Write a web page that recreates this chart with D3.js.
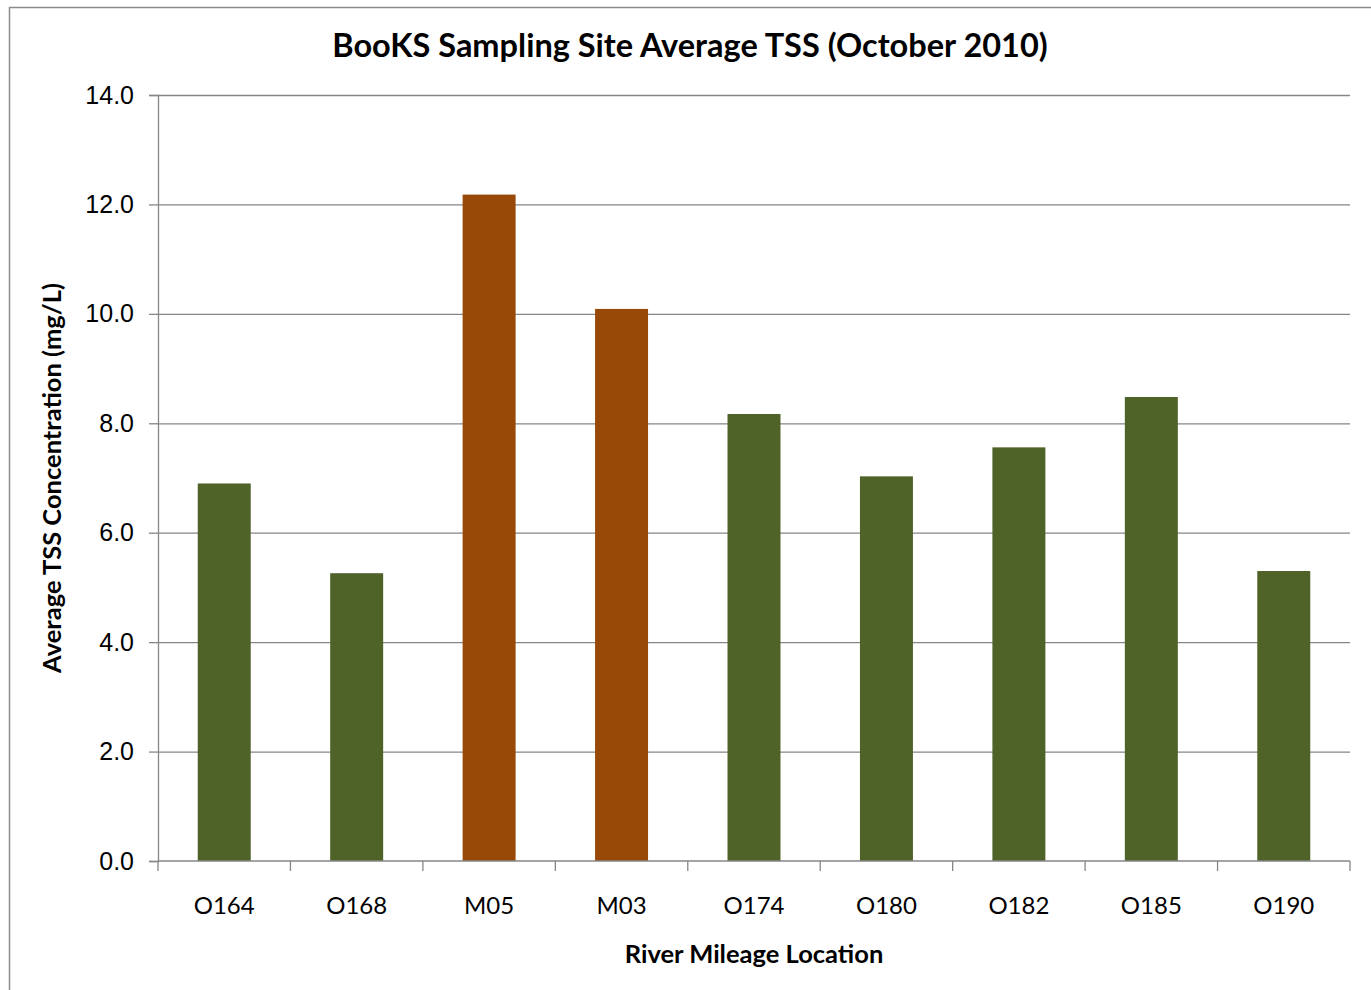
<!DOCTYPE html>
<html>
<head>
<meta charset="utf-8">
<script src="https://cdn.jsdelivr.net/npm/d3@7"></script>
<style>
	body { margin: 0; background: #fff; }
	svg { font-family: Lato, "Open Sans", sans-serif; }
</style>
</head>
<body>
<div id="chart"></div>
<script>
// data
const sites = ["O164", "O168", "M05", "M03", "O174", "O180", "O182", "O185", "O190"];
const tss = [6.9, 5.26, 12.18, 10.09, 8.17, 7.03, 7.56, 8.48, 5.3];
const siteType = ["O", "O", "M", "M", "O", "O", "O", "O", "O"];
const yTicks = [0, 2, 4, 6, 8, 10, 12, 14];

const width = 1371, height = 990;
const margin = {top: 95, right: 21, bottom: 129, left: 158};

const svg = d3.select("#chart").append("svg")
	.attr("width", width)
	.attr("height", height);

// chart frame
svg.append("rect")
	.attr("x", 9.5).attr("y", 7.5)
	.attr("width", 1380).attr("height", 1000)
	.attr("fill", "none")
	.attr("stroke", "#8c8c8c")
	.attr("stroke-width", 1.5);

const x = d3.scaleBand()
	.domain(sites)
	.range([margin.left, width - margin.right])
	.paddingInner(0.6)
	.paddingOuter(0.3);

const y = d3.scaleLinear()
	.domain([0, 14])
	.range([height - margin.bottom, margin.top]);

const color = d3.scaleOrdinal()
	.domain(["O", "M"])
	.range(["#4f6228", "#984807"]);

// gridlines + y axis
const yAxis = g => g
	.attr("transform", `translate(${margin.left},0)`)
	.call(d3.axisLeft(y).tickValues(yTicks).tickFormat(d3.format(".1f")).tickSize(9).tickPadding(15))
	.call(g => g.select(".domain").attr("stroke", "#868686").attr("stroke-width", 1.3))
	.call(g => g.selectAll(".tick line").attr("stroke", "#868686").attr("stroke-width", 1.3))
	.call(g => g.selectAll(".tick line")
		.filter(d => d !== 0)
		.clone()
		.attr("x1", 0)
		.attr("x2", width - margin.right - margin.left))
	.call(g => g.selectAll(".tick text")
		.attr("fill", "#000")
		.attr("font-size", 25));

svg.append("g").call(yAxis);

// bars
svg.append("g")
	.selectAll("rect")
	.data(sites)
	.join("rect")
	.attr("x", d => x(d))
	.attr("y", (d, i) => y(tss[i]))
	.attr("width", x.bandwidth())
	.attr("height", (d, i) => y(0) - y(tss[i]))
	.attr("fill", (d, i) => color(siteType[i]));

// x axis with ticks between categories
const xg = svg.append("g")
	.attr("transform", `translate(0,${y(0)})`);

xg.append("line")
	.attr("x1", margin.left).attr("x2", width - margin.right)
	.attr("stroke", "#868686").attr("stroke-width", 1.3);

const step = x.step();
const bounds = d3.range(sites.length + 1).map(i => margin.left + i * step);
xg.selectAll(".sep")
	.data(bounds)
	.join("line")
	.attr("x1", d => d).attr("x2", d => d)
	.attr("y1", 0).attr("y2", 10)
	.attr("stroke", "#868686").attr("stroke-width", 1.3);

xg.selectAll(".lbl")
	.data(sites)
	.join("text")
	.attr("x", d => x(d) + x.bandwidth() / 2)
	.attr("y", 53)
	.attr("text-anchor", "middle")
	.attr("font-size", 24)
	.text(d => d);

// title
svg.append("text")
	.attr("x", 690)
	.attr("y", 57)
	.attr("text-anchor", "middle")
	.attr("font-weight", "bold")
	.attr("font-size", 32.5)
	.text("BooKS Sampling Site Average TSS (October 2010)");

// axis titles
svg.append("text")
	.attr("x", (margin.left + width - margin.right) / 2)
	.attr("y", 963)
	.attr("text-anchor", "middle")
	.attr("font-weight", "bold")
	.attr("font-size", 25.5)
	.text("River Mileage Location");

svg.append("text")
	.attr("transform", `translate(61,${(y(0) + y(14)) / 2}) rotate(-90)`)
	.attr("text-anchor", "middle")
	.attr("font-weight", "bold")
	.attr("font-size", 25.5)
	.text("Average TSS Concentration (mg/L)");
</script>
</body>
</html>
